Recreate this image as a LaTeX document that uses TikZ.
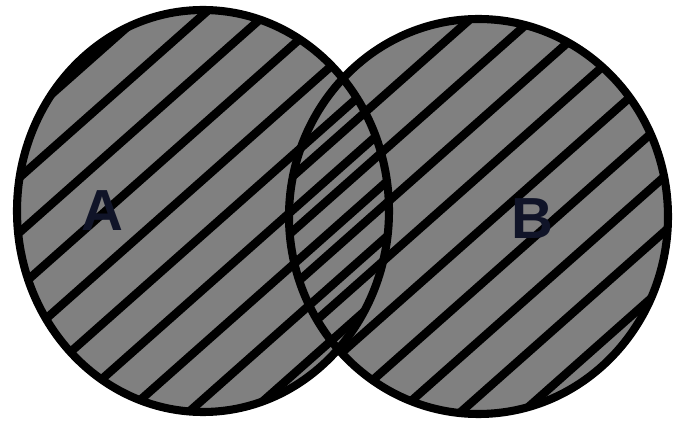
\documentclass[tikz,border=0pt]{standalone}
\usepackage{fontspec}
\setmainfont{Liberation Sans}
\usetikzlibrary{positioning}

\definecolor{setgray}{RGB}{128,128,128}
\definecolor{labelnavy}{RGB}{16,20,40}

\begin{document}
\begin{tikzpicture}[
    x=0.02cm, y=-0.02cm,
    rim/.style={draw=black, line width=4.6pt},
    hatchline/.style={black, line width=4.8pt},
    setlabel/.style={text=labelnavy, font=\fontsize{33}{33}\selectfont\bfseries, inner sep=0pt}
]
\useasboundingbox (0,0) rectangle (674,422);

% --- Fills ---
\fill[setgray] (203,211) ellipse [x radius=186, y radius=201];
\fill[setgray] (478.5,216.5) ellipse [x radius=189.5, y radius=197.5];

% --- Hatching of A ---
\begin{scope}
  \clip (203,211) ellipse [x radius=186, y radius=201];
  \foreach \k in {-8,...,8}
    \draw[hatchline] ({90+62*\k-500},{115+443}) -- ({90+62*\k+500},{115-443});
\end{scope}

% --- Hatching of B ---
\begin{scope}
  \clip (478.5,216.5) ellipse [x radius=189.5, y radius=197.5];
  \foreach \k in {-8,...,8}
    \draw[hatchline] ({424+62*\k-500},{115+443}) -- ({424+62*\k+500},{115-443});
\end{scope}

% --- Outlines ---
\draw[rim] (203,211) ellipse [x radius=186, y radius=201];
\draw[rim] (478.5,216.5) ellipse [x radius=189.5, y radius=197.5];

% --- Labels ---
\node[setlabel] (setA) at (102,211) {A};
\node[setlabel] (setB) at (532,219) {B};

\end{tikzpicture}
\end{document}
